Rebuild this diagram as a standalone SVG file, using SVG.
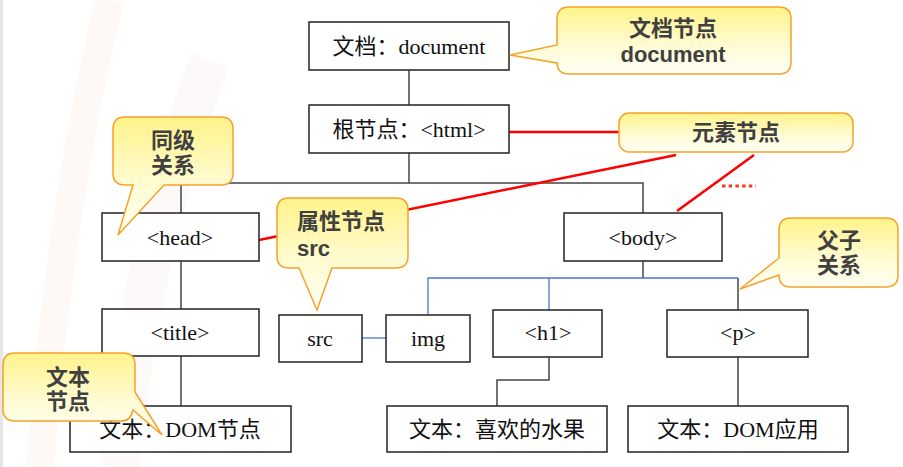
<svg xmlns="http://www.w3.org/2000/svg" width="903" height="467" viewBox="0 0 903 467">
<defs>
<linearGradient id="cg" x1="0" y1="0" x2="0" y2="1">
<stop offset="0" stop-color="#fff38a"/>
<stop offset="0.55" stop-color="#fffbd0"/>
<stop offset="1" stop-color="#fffff6"/>
</linearGradient>
<style>
.box{fill:#fff;stroke:#222;stroke-width:1.5}
.bt{font-family:"Liberation Serif","Times New Roman","Noto Sans CJK SC",serif;font-size:22px;fill:#111;text-anchor:middle;dominant-baseline:central}
.ln{stroke:#444;stroke-width:1.5;fill:none}
.bl{stroke:#4a78c8;stroke-width:1.3;fill:none}
.red{stroke:#f00;stroke-width:2.5;fill:none}
.co{fill:url(#cg);stroke:#f7a12a;stroke-width:1.5}
.ct{font-family:"Liberation Sans","Noto Sans CJK SC",sans-serif;font-weight:bold;font-size:22px;fill:#404040;text-anchor:middle;dominant-baseline:central}
.cl{text-anchor:start}
</style>
</defs>
<rect width="903" height="467" fill="#fff"/>
<rect x="0" y="0" width="3" height="467" fill="#e6e6e6"/>
<g opacity="0.35">
<path d="M40,467 Q60,200 110,0" stroke="#fdeee0" stroke-width="28" fill="none"/>
<path d="M120,467 Q140,250 210,60" stroke="#fdf0f0" stroke-width="40" fill="none"/>
</g>

<g id="connectors">
<line class="ln" x1="409" y1="70" x2="409" y2="105"/>
<polyline class="ln" points="409,153 409,183"/>
<polyline class="ln" points="181,213 181,183 643,183 643,213"/>
<line class="ln" x1="181" y1="261" x2="181" y2="309"/>
<line class="ln" x1="181" y1="356" x2="181" y2="406"/>
<line class="ln" x1="643" y1="261" x2="643" y2="278"/>
<polyline class="bl" points="428,315 428,278 738,278"/>
<line class="bl" x1="549" y1="278" x2="549" y2="310"/>
<line class="ln" x1="738" y1="278" x2="738" y2="310"/>
<line class="bl" x1="362" y1="338" x2="386" y2="338"/>
<polyline class="ln" points="549,357 549,380 497,380 497,406"/>
<line class="ln" x1="738" y1="357" x2="738" y2="406"/>
<line class="red" x1="500" y1="132" x2="620" y2="132"/>
<line class="red" x1="259" y1="240" x2="676" y2="155"/>
<line class="red" x1="754" y1="155" x2="677" y2="211"/>
<line x1="722" y1="186" x2="756" y2="186" stroke="#f03c1e" stroke-width="3" stroke-dasharray="3.5 3.2"/>
</g>

<g id="n-document"><rect class="box" x="309" y="22" width="200" height="48"/><text class="bt" x="409" y="46">文档：document</text></g>
<g id="n-html"><rect class="box" x="309" y="105" width="200" height="48"/><text class="bt" x="409" y="129">根节点：&lt;html&gt;</text></g>
<g id="n-head"><rect class="box" x="102" y="213" width="157" height="48"/><text class="bt" x="180" y="237">&lt;head&gt;</text></g>
<g id="n-body"><rect class="box" x="564" y="213" width="158" height="48"/><text class="bt" x="643" y="237">&lt;body&gt;</text></g>
<g id="n-title"><rect class="box" x="102" y="309" width="157" height="47"/><text class="bt" x="180" y="332">&lt;title&gt;</text></g>
<g id="n-src"><rect class="box" x="279" y="315" width="83" height="47"/><text class="bt" x="320" y="338">src</text></g>
<g id="n-img"><rect class="box" x="386" y="315" width="84" height="47"/><text class="bt" x="428" y="338">img</text></g>
<g id="n-h1"><rect class="box" x="493" y="310" width="109" height="47"/><text class="bt" x="548" y="332">&lt;h1&gt;</text></g>
<g id="n-p"><rect class="box" x="667" y="310" width="141" height="47"/><text class="bt" x="738" y="332">&lt;p&gt;</text></g>
<g id="n-text1"><rect class="box" x="70" y="406" width="221" height="46"/><text class="bt" x="180" y="429">文本：DOM节点</text></g>
<g id="n-text2"><rect class="box" x="387" y="406" width="220" height="46"/><text class="bt" x="497" y="429">文本：喜欢的水果</text></g>
<g id="n-text3"><rect class="box" x="628" y="406" width="220" height="46"/><text class="bt" x="738" y="429">文本：DOM应用</text></g>

<g id="c-document">
<path class="co" d="M569,7 H779 Q791,7 791,19 V62 Q791,74 779,74 H569 Q557,74 557,62 V63 L510,55 L557,45 V19 Q557,7 569,7 Z"/>
<text class="ct" x="673" y="28">文档节点</text><text class="ct" x="673" y="54">document</text>
</g>
<g id="c-element">
<rect class="co" x="619" y="113" width="234" height="39" rx="10"/>
<text class="ct" x="736" y="132">元素节点</text>
</g>
<g id="c-sibling">
<path class="co" d="M125,117 H221 Q233,117 233,129 V173 Q233,185 221,185 H164 L118,235 L133,185 H125 Q113,185 113,173 V129 Q113,117 125,117 Z"/>
<text class="ct" x="173" y="140">同级</text><text class="ct" x="173" y="165">关系</text>
</g>
<g id="c-attr">
<path class="co" d="M289,198 H396 Q408,198 408,210 V256 Q408,268 396,268 H332 L317,310 L299,268 H289 Q277,268 277,256 V210 Q277,198 289,198 Z"/>
<text class="ct cl" x="297" y="221">属性节点</text><text class="ct cl" x="297" y="248">src</text>
</g>
<g id="c-parent">
<path class="co" d="M791,218 H886 Q898,218 898,230 V275 Q898,287 886,287 H791 Q779,287 779,275 L740,289 L779,258 V230 Q779,218 791,218 Z"/>
<text class="ct" x="839" y="240">父子</text><text class="ct" x="839" y="265">关系</text>
</g>
<g id="c-text">
<path class="co" d="M15,353 H123 Q135,353 135,365 V392 L162,435 L133,410 Q131,421 121,421 H15 Q3,421 3,409 V365 Q3,353 15,353 Z"/>
<text class="ct" x="68" y="377">文本</text><text class="ct" x="68" y="401">节点</text>
</g>
</svg>
